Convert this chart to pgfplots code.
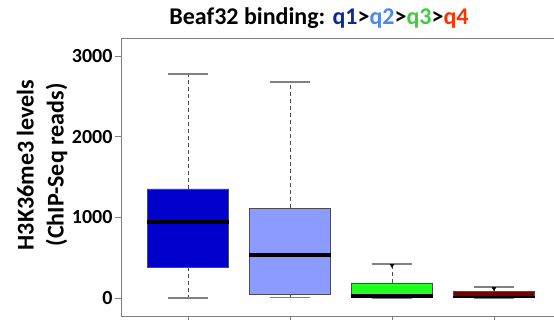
\documentclass[border=0pt]{standalone}
\usepackage{pgfplots}
\pgfplotsset{compat=1.18}
\usepackage{fontspec}
\setmainfont{Carlito}
\definecolor{cq1}{HTML}{0A2A9A}
\definecolor{cq2}{HTML}{4A8AF0}
\definecolor{cq3}{HTML}{40CC40}
\definecolor{cq4}{HTML}{FF3300}
\definecolor{b1}{HTML}{0000CC}
\definecolor{b2}{HTML}{8C9BFF}
\definecolor{b3}{HTML}{22FF22}
\definecolor{b4}{HTML}{7A0000}
\definecolor{axgray}{HTML}{7F7F7F}
\pgfplotsset{
  boxstyle/.style={draw=black!70, line width=0.8pt},
  medstyle/.style={black, line width=4pt},
  whiskstyle/.style={black!70, line width=0.6pt, dash pattern=on 4pt off 3pt},
  capstyle/.style={gray, line width=1.8pt},
}
\begin{document}
\begin{tikzpicture}
\begin{axis}[
  at={(121pt,4pt)}, anchor=south west,
  scale only axis, width=451pt, height=278pt,
  xmin=0.343, xmax=4.765, ymin=-223, ymax=3222,
  axis line style={axgray, line width=0.8pt},
  xtick={1,2,3,4}, xticklabels={},
  ytick={0,1000,2000,3000},
  xtick pos=bottom, ytick pos=left,
  tick align=outside, major tick length=6pt,
  tick style={axgray, line width=0.8pt},
  yticklabel style={font=\fontsize{20}{20}\selectfont\bfseries, xshift=1pt},
  /pgf/number format/assume math mode=true,
  /pgf/number format/1000 sep={},
]
% q1
\addplot[whiskstyle] coordinates {(1,1351) (1,2780)};
\addplot[whiskstyle] coordinates {(1,380) (1,0)};
\addplot[capstyle] coordinates {(0.8,2780) (1.2,2780)};
\addplot[capstyle] coordinates {(0.8,0) (1.2,0)};
\addplot[boxstyle, fill=b1] coordinates {(0.6,380) (1.4,380) (1.4,1351) (0.6,1351) (0.6,380)};
\addplot[medstyle] coordinates {(0.6,945) (1.4,945)};
% q2
\addplot[whiskstyle] coordinates {(2,1115) (2,2673)};
\addplot[whiskstyle] coordinates {(2,41) (2,5)};
\addplot[capstyle] coordinates {(1.8,2673) (2.2,2673)};
\addplot[capstyle] coordinates {(1.8,5) (2.2,5)};
\addplot[boxstyle, fill=b2] coordinates {(1.6,41) (2.4,41) (2.4,1115) (1.6,1115) (1.6,41)};
\addplot[medstyle] coordinates {(1.6,537) (2.4,537)};
% q3
\addplot[whiskstyle] coordinates {(3,186) (3,425)};
\addplot[capstyle] coordinates {(2.8,425) (3.2,425)};
\addplot[capstyle] coordinates {(2.8,0) (3.2,0)};
\addplot[boxstyle, fill=b3] coordinates {(2.6,8) (3.4,8) (3.4,186) (2.6,186) (2.6,8)};
\addplot[medstyle] coordinates {(2.6,25) (3.4,25)};
\addplot[only marks, mark=triangle*, mark options={rotate=180, black}, mark size=2.2pt] coordinates {(3,405)};
% q4
\addplot[whiskstyle] coordinates {(4,78) (4,136)};
\addplot[capstyle] coordinates {(3.8,136) (4.2,136)};
\addplot[capstyle] coordinates {(3.8,0) (4.2,0)};
\addplot[boxstyle, fill=b4] coordinates {(3.6,8) (4.4,8) (4.4,78) (3.6,78) (3.6,8)};
\addplot[black, line width=2pt] coordinates {(3.6,15) (4.4,15)};
\addplot[only marks, mark=triangle*, mark options={rotate=180, black}, mark size=2.2pt] coordinates {(4,118)};
\end{axis}
\node[rotate=90, align=center, font=\fontsize{24}{30}\selectfont\bfseries] at (42pt,155pt)
  {H3K36me3 levels\\(ChIP-Seq reads)};
\node[font=\fontsize{24}{24}\selectfont\bfseries] at (319pt,302pt)
  {Beaf32 binding: \textcolor{cq1}{q1}>\textcolor{cq2}{q2}>\textcolor{cq3}{q3}>\textcolor{cq4}{q4}};
\pgfresetboundingbox
\path[use as bounding box] (0,0) rectangle (554pt,320pt);
\end{tikzpicture}
\end{document}
